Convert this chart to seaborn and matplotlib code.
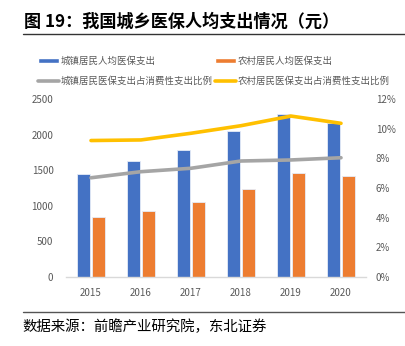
import numpy as np
import pandas as pd
import matplotlib
matplotlib.use("Agg")
import matplotlib.pyplot as plt
from matplotlib.patches import Patch
from matplotlib.lines import Line2D
import seaborn as sns

years = ["2015", "2016", "2017", "2018", "2019", "2020"]
urban_spend = [1442, 1633, 1779, 2050, 2289, 2166]
rural_spend = [843, 927, 1058, 1240, 1465, 1418]
urban_ratio = [6.69, 7.10, 7.33, 7.82, 7.89, 8.04]
rural_ratio = [9.20, 9.24, 9.69, 10.20, 10.85, 10.36]

s_urban = "城镇居民人均医保支出"
s_rural = "农村居民人均医保支出"
l_urban = "城镇居民医保支出占消费性支出比例"
l_rural = "农村居民医保支出占消费性支出比例"
title = "图 19：我国城乡医保人均支出情况（元）"
source = "数据来源：前瞻产业研究院，东北证券"

c_blue = "#4472C4"
c_orange = "#ED7D31"
c_gray = "#A5A5A5"
c_yellow = "#FFC000"
tick_c = "#595959"

sns.set_theme(style="white")
plt.rcParams["font.family"] = ["Noto Sans CJK SC", "DejaVu Sans"]

bars = pd.DataFrame({
    "year": years * 2,
    "value": urban_spend + rural_spend,
    "series": [s_urban] * len(years) + [s_rural] * len(years),
})
lines = pd.DataFrame({
    "pos": list(range(len(years))) * 2,
    "ratio": urban_ratio + rural_ratio,
    "series": [l_urban] * len(years) + [l_rural] * len(years),
})

fig = plt.figure(figsize=(4.06, 3.46), dpi=100)
ax = fig.add_axes([66 / 406, 1 - 277 / 346, 300 / 406, 178 / 346])

sns.barplot(data=bars, x="year", y="value", hue="series", order=years,
            hue_order=[s_urban, s_rural], palette=[c_blue, c_orange],
            saturation=1, width=0.6, gap=0.08, ax=ax, legend=False,
            edgecolor="#E6ECF7", linewidth=0.6)
ax.set_xlim(-0.5, len(years) - 0.5)
ax.set_ylim(0, 2500)
ax.set_yticks([0, 500, 1000, 1500, 2000, 2500])
ax.set_xlabel("")
ax.set_ylabel("")
for sp in ["top", "right", "left"]:
    ax.spines[sp].set_visible(False)
ax.spines["bottom"].set_color("#D9D9D9")
ax.spines["bottom"].set_linewidth(1.0)
ax.tick_params(axis="x", labelsize=7, colors=tick_c, length=0, pad=8)
ax.tick_params(axis="y", labelsize=7, colors=tick_c, length=0, pad=9)

ax2 = ax.twinx()
sns.lineplot(data=lines, x="pos", y="ratio", hue="series",
             hue_order=[l_urban, l_rural], palette=[c_gray, c_yellow],
             linewidth=2.6, ax=ax2, legend=False)
ax2.set_xlim(-0.5, len(years) - 0.5)
ax2.set_ylim(0, 12)
ax2.set_yticks([0, 2, 4, 6, 8, 10, 12])
ax2.set_yticklabels([f"{v}%" for v in [0, 2, 4, 6, 8, 10, 12]])
ax2.set_xlabel("")
ax2.set_ylabel("")
for sp in ["top", "right", "left", "bottom"]:
    ax2.spines[sp].set_visible(False)
ax2.tick_params(axis="y", labelsize=7, colors=tick_c, length=0, pad=7)
ax2.grid(False)
ax.grid(False)

handles = [
    Patch(facecolor=c_blue, label=s_urban),
    Line2D([0], [0], color=c_gray, lw=2.6, label=l_urban),
    Patch(facecolor=c_orange, label=s_rural),
    Line2D([0], [0], color=c_yellow, lw=2.6, label=l_rural),
]
fig.legend(handles=handles, ncol=2, loc="upper left",
           bbox_to_anchor=(38 / 406, 1 - 56 / 346), frameon=False,
           fontsize=6.8, handlelength=2.2, handleheight=0.5,
           handletextpad=0.15, columnspacing=0.3, labelspacing=1.1,
           labelcolor=tick_c, borderaxespad=0, borderpad=0)

fig.text(24 / 406, 1 - 22 / 346, title, fontsize=12.3, fontweight="bold",
         va="center", ha="left", color="black")
fig.add_artist(Line2D([23 / 406, 1.0], [1 - 34 / 346, 1 - 34 / 346],
                      color="#333333", lw=1.0, transform=fig.transFigure))
fig.add_artist(Line2D([23 / 406, 1.0], [1 - 312 / 346, 1 - 312 / 346],
                      color="#555555", lw=1.0, transform=fig.transFigure))
fig.text(22 / 406, 1 - 327 / 346, source, fontsize=10.4,
         va="center", ha="left", color="black")

fig.savefig("out.png", dpi=100)
